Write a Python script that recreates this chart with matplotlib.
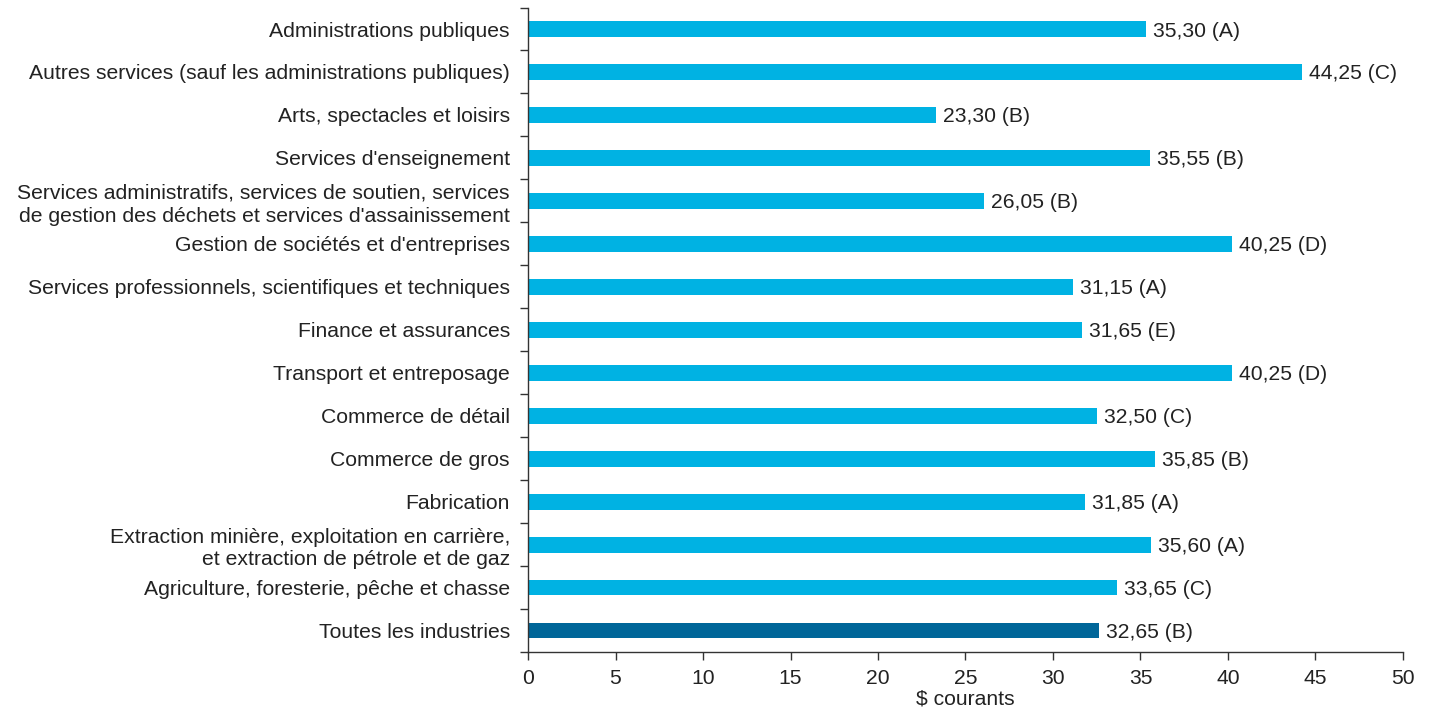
import numpy as np
import matplotlib.pyplot as plt

plt.rcParams['font.family'] = ['Liberation Sans', 'DejaVu Sans']
plt.rcParams['font.size'] = 15.2

# categories from top to bottom
labels = [
    "Administrations publiques",
    "Autres services (sauf les administrations publiques)",
    "Arts, spectacles et loisirs",
    "Services d'enseignement",
    "Services administratifs, services de soutien, services\nde gestion des déchets et services d'assainissement",
    "Gestion de sociétés et d'entreprises",
    "Services professionnels, scientifiques et techniques",
    "Finance et assurances",
    "Transport et entreposage",
    "Commerce de détail",
    "Commerce de gros",
    "Fabrication",
    "Extraction minière, exploitation en carrière,\net extraction de pétrole et de gaz",
    "Agriculture, foresterie, pêche et chasse",
    "Toutes les industries",
]
values = [35.30, 44.25, 23.30, 35.55, 26.05, 40.25, 31.15, 31.65,
          40.25, 32.50, 35.85, 31.85, 35.60, 33.65, 32.65]
grades = ["A", "C", "B", "B", "B", "D", "A", "E",
          "D", "C", "B", "A", "A", "C", "B"]

light = "#00b2e3"
dark = "#006699"
txt = "#222222"

fig = plt.figure(figsize=(14.31, 7.10), dpi=100)
ax = fig.add_axes([0.369, 0.0817, 0.6114, 0.9077])

n = len(labels)
y = np.arange(n)
colors = [light] * (n - 1) + [dark]
ax.barh(y, values, height=0.37, color=colors, zorder=2)

for yi, v, g in zip(y, values, grades):
    s = f"{v:.2f}".replace(".", ",") + f" ({g})"
    ax.text(v + 0.4, yi, s, va="center_baseline", ha="left", color=txt)

ax.set_ylim(n - 0.5, -0.5)
ax.set_xlim(0, 50)
ax.set_xticks(np.arange(0, 51, 5))
ax.set_yticks(y)
ax.set_yticklabels(labels, color=txt, linespacing=1.25)
ax.set_yticks(np.arange(-0.5, n, 1), minor=True)
ax.tick_params(axis="y", which="major", length=0, pad=13)
ax.tick_params(axis="y", which="minor", length=6, width=1, color="#333333")
ax.tick_params(axis="x", length=6, width=1, color="#333333", labelcolor=txt,
               pad=6)
ax.set_xlabel("$ courants", color=txt, labelpad=1)

for side in ["top", "right"]:
    ax.spines[side].set_visible(False)
for side in ["left", "bottom"]:
    ax.spines[side].set_color("#333333")
    ax.spines[side].set_linewidth(1)

fig.savefig("out.png", dpi=100)
